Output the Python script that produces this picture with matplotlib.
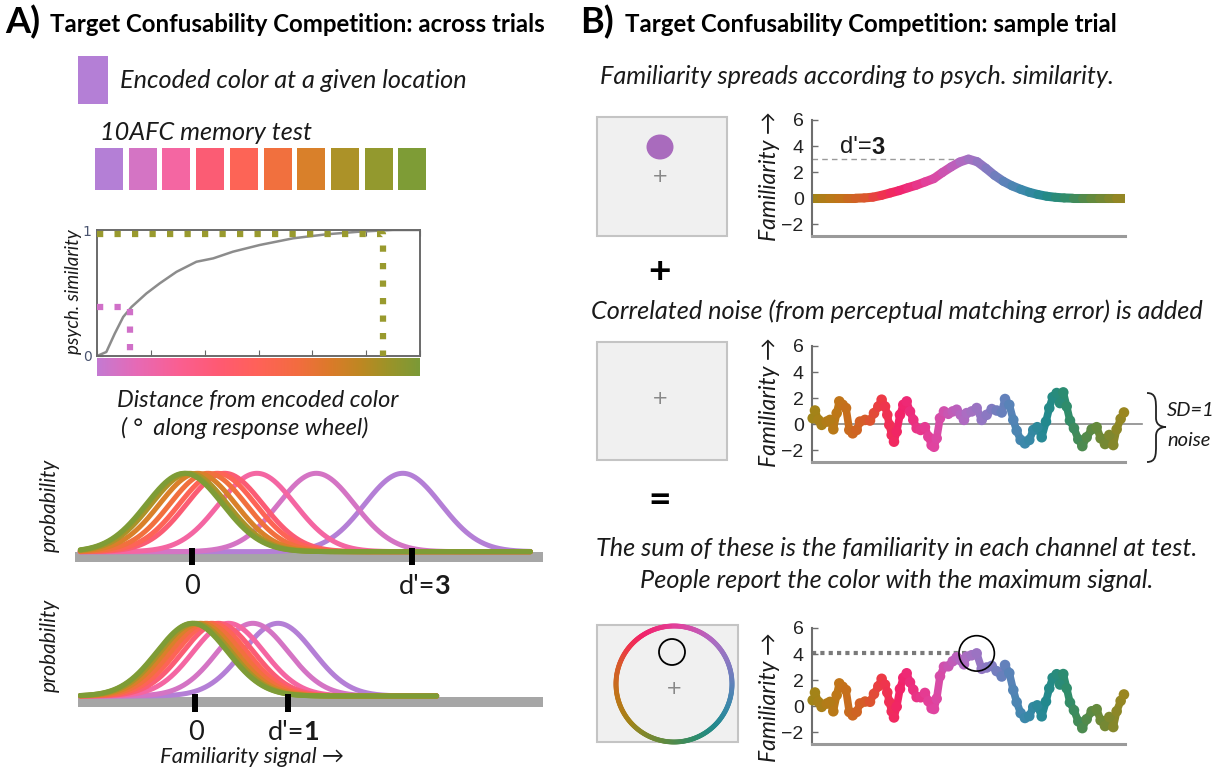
import numpy as np
import matplotlib
matplotlib.use('Agg')
import matplotlib.pyplot as plt
from matplotlib.colors import LinearSegmentedColormap
from matplotlib.collections import LineCollection
from matplotlib.patches import Rectangle, Ellipse, Circle, PathPatch
from matplotlib.path import Path

# ---- data ----
# 10AFC test colours, from the encoded colour (purple) to the most distant one
square_colors = ['#b47fd6', '#d474c4', '#f466a2', '#fb5c74', '#fd6456',
                 '#f1703e', '#d9802a', '#ac9228', '#93992e', '#7e9c36']
# means of the familiarity distributions for each test colour
means_d3 = [2.88, 1.70, 0.89, 0.45, 0.35, 0.22, 0.08, -0.03, -0.08, -0.10]
means_d1 = [0.89, 0.62, 0.36, 0.25, 0.18, 0.12, 0.06, 0.01, -0.02, -0.03]
sd_d3 = 0.52
sd_d1 = 0.38

# psych. similarity curve (x: degrees from encoded colour)
psych_dist = [0, 5.2, 9.9, 14.6, 19.3, 27.5, 34.9, 44.3, 55.4, 64.8, 75.8,
              90.7, 109.3, 128, 146.5, 157.7, 165, 180]
psych_sim = [0, 0.032, 0.178, 0.31, 0.39, 0.496, 0.576, 0.668, 0.748, 0.775,
             0.828, 0.881, 0.934, 0.966, 0.987, 0.995, 1.0, 1.0]
probe_dist = [18.2, 159.2]
probe_sim = [0.385, 0.965]
probe_colors = ['#d070c8', '#999a2e']

# familiarity from similarity (d'=3), per channel on the wheel
fam_deg = list(range(0, 361, 10))
fam_vals = [0, 0, 0, 0, 0, 0, 0.02, 0.08, 0.22, 0.4, 0.58, 0.8, 1.0, 1.25, 1.5,
            1.97, 2.4, 2.78, 3.0, 2.8, 2.3, 1.75, 1.3, 0.95, 0.68, 0.45, 0.28,
            0.15, 0.07, 0.02, 0, 0, 0, 0, 0, 0, 0]

# correlated noise sample
noise_deg = [0.8, 3.4, 7.3, 11.1, 16.9, 20.7, 24.5, 28.4, 31.4, 35.3, 39.1, 42.9,
             46.8, 51.4, 55.2, 61.0, 66.7, 71.3, 76.3, 80.1, 84.0, 86.6, 88.9,
             91.7, 94.3, 97.4, 101.2, 105.0, 108.9, 112.7, 116.5, 120.4, 125.0,
             129.9, 133.8, 137.6, 140.3, 143.4, 147.2, 151.8, 156.8, 161.8,
             166.4, 171.0, 174.8, 177.9, 183.6, 189.4, 195.2, 200.9, 206.7,
             212.4, 218.2, 222.0, 226.9, 231.5, 235.4, 240.0, 244.9, 249.9,
             254.5, 259.1, 264.2, 269.1, 272.9, 276.8, 281.4, 285.2, 289.0,
             292.9, 296.7, 301.3, 306.3, 310.9, 315.9, 321.7, 327.4, 332.0,
             337.0, 341.9, 346.5, 350.4, 355.0, 358.8]
noise_val = [0.46, 1.05, 0.33, -0.05, 0.2, 0.33, -0.39, 0.85, 1.75, 1.49, 1.24,
             -0.44, -0.70, -0.44, 0.2, 0.33, 0.28, 0.85, 1.36, 1.88, 1.36, 0.72,
             -0.05, -0.83, -1.34, -0.57, 0.72, 1.49, 1.75, 0.98, 0.33, -0.31,
             -0.44, -0.23, -0.96, -1.60, -1.73, -1.08, 0.46, 0.98, 0.80, 0.98,
             1.11, 0.72, 0.33, 0.85, 0.98, 1.24, 0.33, 0.72, 1.16, 1.05, 0.90,
             1.93, 1.49, 0.33, -0.49, -1.21, -1.47, -1.21, -0.44, -0.23, -1.00,
             0.2, 1.24, 2.08, 2.39, 1.62, 2.44, 1.36, 0.28, -0.31, -1.16, -1.68,
             -1.00, -0.39, -0.23, -1.08, -1.52, -0.83, -1.60, -0.39, 0.41, 0.90]

# colour wheel hues along the x axis of panel B
hue_anchors = [(0, '#a08418'), (30, '#bf7618'), (63, '#d85a2a'), (80, '#ee3848'),
               (101, '#f2226a'), (140, '#e044a0'), (170, '#b664c0'), (180, '#a870c2'),
               (201, '#8a78c2'), (224, '#5e82ba'), (247, '#3a88aa'), (270, '#22898e'),
               (293, '#2e8c6c'), (323, '#5e8a40'), (360, '#9a8620')]
grad_anchors = [(0, '#c47ad2'), (0.12, '#e66ab6'), (0.25, '#fa5f92'), (0.38, '#ff5a72'),
                (0.5, '#ff6258'), (0.62, '#f36c40'), (0.72, '#dc7a2a'), (0.82, '#bd8822'),
                (0.9, '#9d9328'), (1, '#7b9a37')]

hue_cmap = LinearSegmentedColormap.from_list('hue', [(d / 360, c) for d, c in hue_anchors])
grad_cmap = LinearSegmentedColormap.from_list('grad', grad_anchors)

W, H = 1221, 773
TXT = ['Lato', 'DejaVu Sans']
NUM = ['Liberation Sans Narrow', 'Liberation Sans', 'DejaVu Sans']
BODY = 18.2

fig = plt.figure(figsize=(W / 100, H / 100), dpi=100)
deco = fig.add_axes([0, 0, 1, 1])
deco.set_xlim(0, W)
deco.set_ylim(H, 0)
deco.axis('off')


def rect(x0, y0, x1, y1):
    return [x0 / W, 1 - y1 / H, (x1 - x0) / W, (y1 - y0) / H]


def label(x, y, s, size=BODY, style='italic', weight='normal', ha='center', rot=0,
          fam=TXT, color='#1a1a1a'):
    deco.text(x, y, s, fontsize=size, fontstyle=style, fontweight=weight, ha=ha,
              va='center', rotation=rot, family=fam, color=color)


def hue_line(ax, x, y, lw):
    x = np.asarray(x, float)
    y = np.asarray(y, float)
    pts = np.column_stack([x, y]).reshape(-1, 1, 2)
    segs = np.concatenate([pts[:-1], pts[1:]], axis=1)
    mid = (x[:-1] + x[1:]) / 2
    lc = LineCollection(segs, colors=hue_cmap(mid / 360), linewidths=lw,
                        capstyle='round', zorder=2)
    ax.add_collection(lc)


def fam_axes(r):
    ax = fig.add_axes(r)
    ax.patch.set_alpha(0)
    ax.set_xlim(0, 360)
    ax.set_ylim(-2.9, 6)
    ax.spines[['top', 'right']].set_visible(False)
    ax.spines['left'].set_color('#6e6e6e')
    ax.spines['left'].set_linewidth(1.5)
    ax.spines['bottom'].set_color('#9a9a9a')
    ax.spines['bottom'].set_linewidth(2.2)
    ax.set_xticks([])
    ax.set_yticks([-2, 0, 2, 4, 6])
    ax.tick_params(axis='y', direction='in', length=4, width=1, color='#6e6e6e',
                   labelsize=14, labelcolor='#222222', pad=6)
    for t in ax.get_yticklabels():
        t.set_family(NUM)
    return ax


# ================= Panel A =================
label(5, 22, 'A)', size=26, style='normal', weight='bold', ha='left', color='black')
label(50, 24, 'Target Confusability Competition: across trials', size=17.3,
      style='normal', weight='bold', ha='left', color='black')

deco.add_patch(Rectangle((78, 56), 30, 48, facecolor=square_colors[0], edgecolor='none'))
label(120, 80, 'Encoded color at a given location', ha='left')
label(100, 133, '10AFC memory test', ha='left')
for i, c in enumerate(square_colors):
    deco.add_patch(Rectangle((95 + i * 33.7, 148), 28, 42, facecolor=c, edgecolor='none'))

# psych. similarity curve
axp = fig.add_axes(rect(97, 230, 420, 356))
axp.plot(psych_dist, psych_sim, color='#8c8c8c', lw=1.8, zorder=2)
for d, s, c in zip(probe_dist, probe_sim, probe_colors):
    axp.plot([0, d, d], [s, s, 0], color=c, lw=4.5, ls=(0, (1, 1.8)),
             dash_capstyle='butt', clip_on=False, zorder=3)
axp.set_xlim(0, 180)
axp.set_ylim(0, 1)
axp.set_xticks(range(0, 181, 30))
axp.set_xticklabels([])
axp.set_yticks([0, 1])
axp.tick_params(direction='in', top=True, length=4, color='#666666',
                labelsize=10, labelcolor='#4a5470', pad=4)
for s in axp.spines.values():
    s.set_color('#6a6a6a')
    s.set_linewidth(1.4)

axg = fig.add_axes(rect(97, 358, 420, 376))
axg.imshow(np.linspace(0, 1, 256)[None, :], aspect='auto', cmap=grad_cmap,
           extent=[0, 180, 0, 1])
axg.axis('off')

label(73, 292, 'psych. similarity', size=13.5, rot=90)
label(258, 401, 'Distance from encoded color', size=17)
label(245, 428, '( \u00b0  along response wheel)', size=17)


def prob_panel(r, xlo, xhi, ylo, yhi, means, sd, clo, chi, ticks, bar_y, tick_y):
    ax = fig.add_axes(r)
    ax.patch.set_alpha(0)
    ax.set_xlim(xlo, xhi)
    ax.set_ylim(ylo, yhi)
    ax.axis('off')
    ax.axhline(bar_y, color='#a6a6a6', lw=7.2, solid_capstyle='butt', zorder=1)
    xs = np.linspace(clo, chi, 500)
    for m, c in zip(means, square_colors):
        ax.plot(xs, np.exp(-0.5 * ((xs - m) / sd) ** 2), color=c, lw=3.6,
                solid_capstyle='round', zorder=2)
    for t in ticks:
        ax.plot([t, t], tick_y, color='black', lw=4.3, solid_capstyle='butt', zorder=3)
    return ax


# d'=3 : 0 at x=191.7 px, 73.3 px per unit; base at y=551.7, 78.4 px per unit
prob_panel(rect(75, 465, 543, 570), (75 - 191.7) / 73.3, (543 - 191.7) / 73.3,
           -18.3 / 78.4, 86.7 / 78.4, means_d3, sd_d3, -1.52, 4.62, [0, 3],
           -5 / 78.4, [3.7 / 78.4, -13.3 / 78.4])
label(50, 505, 'probability', size=15, rot=90)
label(192, 586, '0', size=19.5, style='normal')
label(435, 586, "d'=", size=19.5, style='normal', ha='right')
label(434, 586, '3', size=19.5, style='normal', weight='bold', ha='left')

# d'=1 : 0 at x=195 px, 93.3 px per unit; base at y=696, 72.7 px per unit
prob_panel(rect(78, 615, 543, 715), (78 - 195) / 93.3, (543 - 195) / 93.3,
           -19 / 72.7, 81 / 72.7, means_d1, sd_d1, -1.23, 2.59, [0, 1],
           -6 / 72.7, [2 / 72.7, -16 / 72.7])
label(50, 645, 'probability', size=15, rot=90)
label(196, 732, '0', size=19.5, style='normal')
label(304, 732, "d'=", size=19.5, style='normal', ha='right')
label(303, 732, '1', size=19.5, style='normal', weight='bold', ha='left')
label(252, 757, 'Familiarity signal \u2192', size=16)

# ================= Panel B =================
label(580, 22, 'B)', size=26, style='normal', weight='bold', ha='left', color='black')
label(625, 24, 'Target Confusability Competition: sample trial', size=17.3,
      style='normal', weight='bold', ha='left', color='black')

# --- similarity-based familiarity
label(857, 76, 'Familiarity spreads according to psych. similarity.')
deco.add_patch(Rectangle((597, 117), 130, 119, facecolor='#f0f0f0', edgecolor='#c4c4c4', lw=1.5))
deco.add_patch(Ellipse((660, 147), 27, 25, facecolor='#a96bbd', edgecolor='none'))
label(660, 176, '+', size=14, style='normal', fam=['DejaVu Sans'], color='#888888')

ax1 = fam_axes(rect(812, 120, 1125, 236))
hue_line(ax1, fam_deg, fam_vals, 6.5)
ax1.plot([0, 180], [3, 3], color='#9a9a9a', lw=1, ls=(0, (4, 3)), zorder=1)
label(770, 176, 'Familiarity \u2192', size=16.5, rot=90)
label(872, 147, "d'=", size=17, style='normal', ha='right', fam=NUM)
label(871, 147, '3', size=17, style='normal', weight='bold', ha='left', fam=NUM)

label(660, 271, '+', size=28, style='normal', weight='bold', color='black')

# --- correlated noise
label(897, 311, 'Correlated noise (from perceptual matching error) is added')
deco.add_patch(Rectangle((597, 342), 130, 118, facecolor='#f0f0f0', edgecolor='#c4c4c4', lw=1.5))
label(660, 398, '+', size=14, style='normal', fam=['DejaVu Sans'], color='#888888')

ax2 = fam_axes(rect(812, 346, 1125, 462))
ax2.plot([0, 379], [0, 0], color='#8a8a8a', lw=1.2, clip_on=False, zorder=1)
hue_line(ax2, noise_deg, noise_val, 5.5)
ax2.scatter(noise_deg, noise_val, c=noise_deg, cmap=hue_cmap, vmin=0, vmax=360,
            s=58, edgecolors='none', zorder=3, clip_on=False)
label(770, 402, 'Familiarity \u2192', size=16.5, rot=90)

brace = Path([(1147, 393), (1156, 393), (1156, 400), (1156, 410),
              (1156, 418), (1156, 424), (1160, 427), (1166, 427),
              (1160, 427), (1156, 430), (1156, 436),
              (1156, 445), (1156, 455), (1156, 462), (1147, 462)],
             [Path.MOVETO, Path.CURVE4, Path.CURVE4, Path.CURVE4,
              Path.LINETO, Path.CURVE4, Path.CURVE4, Path.CURVE4,
              Path.CURVE4, Path.CURVE4, Path.CURVE4,
              Path.LINETO, Path.CURVE4, Path.CURVE4, Path.CURVE4])
deco.add_patch(PathPatch(brace, facecolor='none', edgecolor='#222222', lw=1.3))
label(1167, 410, 'SD=1', size=14.5, ha='left')
label(1167, 441, 'noise', size=14.5, ha='left')

label(660, 500, '=', size=28, style='normal', weight='bold', color='black')

# --- sum
label(897, 548, 'The sum of these is the familiarity in each channel at test.')
label(897, 581, 'People report the color with the maximum signal.')
deco.add_patch(Rectangle((597, 625), 141, 117, facecolor='#f0f0f0', edgecolor='#c4c4c4', lw=1.5))
theta = np.linspace(0, 2 * np.pi, 361)
rx = 674 - 58 * np.sin(theta)
ry = 684 - 58 * np.cos(theta)
ring_pts = np.column_stack([rx, ry]).reshape(-1, 1, 2)
ring_segs = np.concatenate([ring_pts[:-1], ring_pts[1:]], axis=1)
ring_hue = (135 - np.degrees(theta[:-1])) % 360
deco.add_collection(LineCollection(ring_segs, colors=hue_cmap(ring_hue / 360),
                                   linewidths=3.5, capstyle='round', alpha=0.9))
deco.add_patch(Circle((672, 652), 13, facecolor='none', edgecolor='black', lw=1.3))
label(674, 688, '+', size=14, style='normal', fam=['DejaVu Sans'], color='#888888')

sum_val = np.array(noise_val) + np.interp(noise_deg, fam_deg, fam_vals)
peak = int(np.argmax(sum_val))
ax3 = fam_axes(rect(812, 628, 1125, 744))
ax3.plot([0, noise_deg[peak]], [sum_val[peak], sum_val[peak]], color='#7a7a7a',
         lw=3, ls=(0, (1, 1)), dash_capstyle='butt', zorder=1)
hue_line(ax3, noise_deg, sum_val, 5.5)
ax3.scatter(noise_deg, sum_val, c=noise_deg, cmap=hue_cmap, vmin=0, vmax=360,
            s=58, edgecolors='none', zorder=3, clip_on=False)
ax3.scatter([noise_deg[peak]], [sum_val[peak]], s=650, facecolors='none',
            edgecolors='black', linewidths=1.2, zorder=5, clip_on=False)
label(770, 697, 'Familiarity \u2192', size=16.5, rot=90)

fig.savefig('out.png', dpi=100)
